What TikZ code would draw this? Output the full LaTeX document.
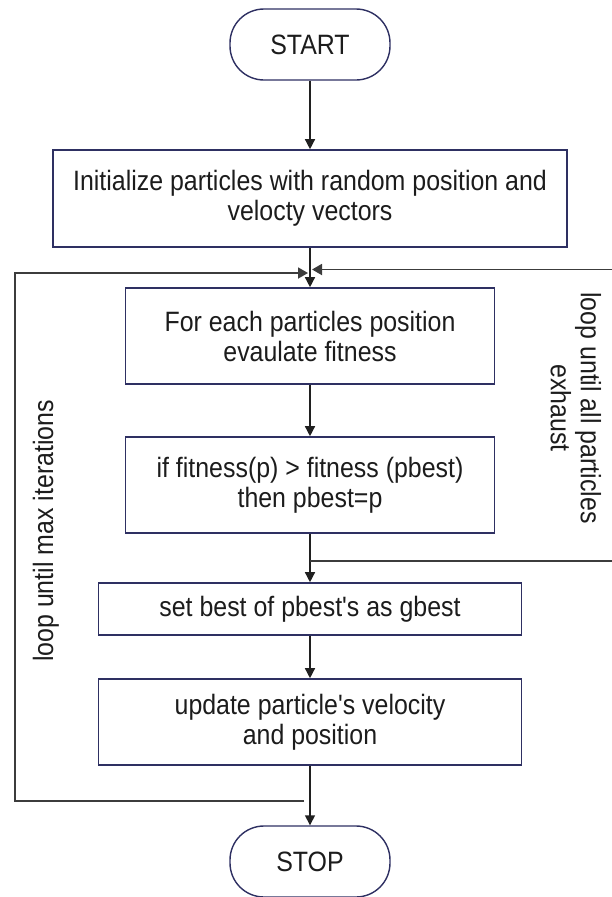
\documentclass[tikz,border=0pt]{standalone}
\usepackage{fontspec}
\setmainfont{Liberation Sans}[FakeStretch=0.89, Ligatures=TeXOff]
\usetikzlibrary{arrows.meta}
\definecolor{boxline}{HTML}{2E3062}
\definecolor{ink}{HTML}{1C1C1C}
\definecolor{wire}{HTML}{202020}
\definecolor{loopwire}{HTML}{3C3C3C}
\begin{document}
\begin{tikzpicture}[x=1pt,y=-1pt,
  every node/.style={text=ink, font=\fontsize{28}{30}\selectfont},
  procbox/.style={draw=boxline, line width=1.6pt, rectangle, align=center, inner sep=0pt},
  termbox/.style={draw=boxline, line width=1.4pt, rectangle, rounded corners=34pt,
    minimum width=160pt, minimum height=71pt, inner sep=0pt},
  flow/.style={draw=wire, line width=1.4pt, -{Triangle[length=10pt,width=10pt]}},
  loopline/.style={draw=loopwire, line width=1.8pt},
  looparrow/.style={loopline, -{Triangle[length=10pt,width=11pt]}},
  looptext/.style={align=center, inner sep=0pt}]
\useasboundingbox (0,0) rectangle (612,897);

% terminals and process steps
\node[termbox] (start) at (310,44.5) {START};
\node[procbox, minimum width=514pt, minimum height=97pt] (init) at (310,198.5)
  {Initialize particles with random position and\\velocty vectors};
\node[procbox, minimum width=369pt, minimum height=96pt] (eval) at (310,336)
  {For each particles position\\evaulate fitness};
\node[procbox, minimum width=369pt, minimum height=96pt] (pbest) at (310,485)
  {if fitness(p) > fitness (pbest)\\then pbest=p};
\node[procbox, minimum width=423pt, minimum height=52pt] (gbest) at (310,609)
  {set best of pbest's as gbest};
\node[procbox, minimum width=423pt, minimum height=86pt] (update) at (310,722)
  {update particle's velocity\\and position};
\node[termbox] (stop) at (310,861.5) {STOP};

% main flow
\draw[flow] (start) -- (init);
\draw[flow] (init) -- (eval);
\draw[flow] (eval) -- (pbest);
\draw[flow] (pbest) -- (gbest);
\draw[flow] (gbest) -- (update);
\draw[flow] (update) -- (stop);

% outer loop: max iterations
\coordinate (outerfrom) at (304,801);
\coordinate (outercorner) at (15,273);
\coordinate (outerto) at (308,273);
\draw[looparrow] (outerfrom) -| (outercorner) -- (outerto);

% inner loop: all particles
\coordinate (innerfrom) at (310,561);
\coordinate (innercorner) at (616,269.5);
\coordinate (innerto) at (312,269.5);
\draw[loopline] (innerfrom) -| (innercorner);
\draw[looparrow] (innercorner) -- (innerto);

% loop labels
\node[looptext, rotate=90] (maxlabel) at (46,531) {loop until max iterations};
\node[looptext, rotate=-90] (alllabel) at (576,408) {loop until all particles\\exhaust};
\end{tikzpicture}
\end{document}
